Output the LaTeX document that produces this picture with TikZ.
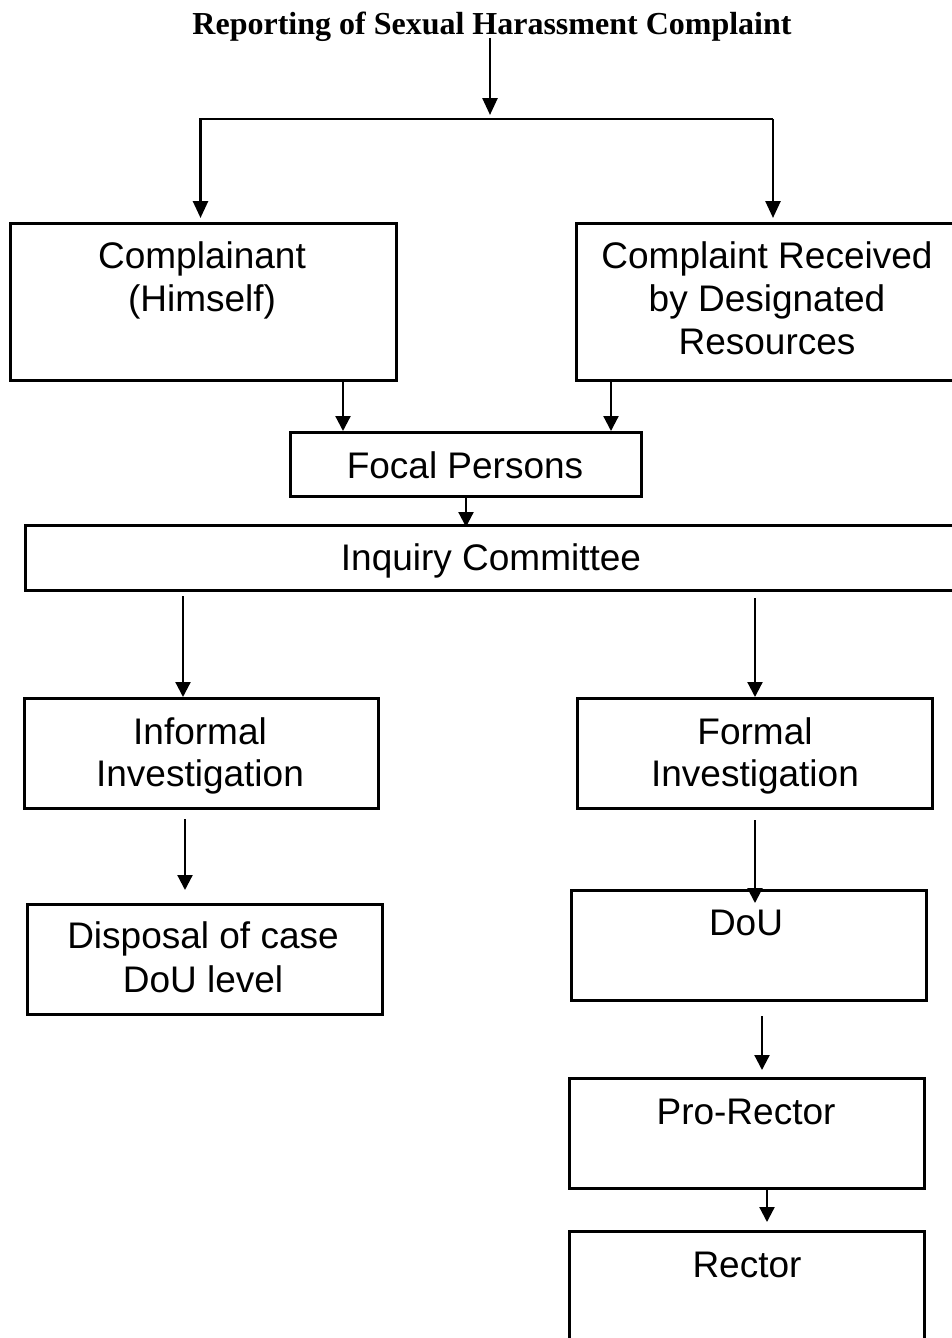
\documentclass[tikz,border=0pt]{standalone}
\usepackage{fontspec}
\setmainfont{Liberation Serif}
\newfontfamily\arialfont{Liberation Sans}
\usetikzlibrary{arrows.meta}
\begin{document}
\begin{tikzpicture}[x=1pt,y=-1pt,
  box/.style={draw, line width=3pt, inner sep=0pt, anchor=north west},
  txt/.style={font=\arialfont\fontsize{37}{43}\selectfont, anchor=base, inner sep=0pt},
  arr/.style={line width=2.2pt, -{Triangle[length=15pt,width=15pt]}},
  tarr/.style={line width=2.6pt, -{Triangle[length=17pt,width=15pt]}},
]
\useasboundingbox (0,0) rectangle (951,1338);

% title
\node[font=\bfseries\fontsize{32}{36}\selectfont, anchor=base, inner sep=0pt] (title) at (492,35) {Reporting of Sexual Harassment Complaint};

% boxes
\node[box, minimum width=386.5pt, minimum height=157pt] (cb) at (8.5,222) {};
\node[box, minimum width=390pt, minimum height=157pt] (cr) at (575,222) {};
\node[box, minimum width=351pt, minimum height=64pt] (fp) at (289,431) {};
\node[box, minimum width=940pt, minimum height=65pt] (ic) at (24,524) {};
\node[box, minimum width=354pt, minimum height=110pt] (ii) at (23,697) {};
\node[box, minimum width=355pt, minimum height=110pt] (fi) at (576,697) {};
\node[box, minimum width=355pt, minimum height=110pt] (dc) at (26,903) {};
\node[box, minimum width=355pt, minimum height=110pt] (du) at (570,889) {};
\node[box, minimum width=355pt, minimum height=110pt] (pr) at (568,1077) {};
\node[box, minimum width=355pt, minimum height=130pt] (rc) at (568,1230) {};

% texts
\node[txt] (cb1) at (202,268) {Complainant};
\node[txt] (cb2) at (202,311) {(Himself)};
\node[txt] (cr1) at (767,268) {Complaint Received};
\node[txt] (cr2) at (767,311) {by Designated};
\node[txt] (cr3) at (767,354) {Resources};
\node[txt] (fp1) at (465,478) {Focal Persons};
\node[txt] (ic1) at (491,570) {Inquiry Committee};
\node[txt] (ii1) at (200,744) {Informal};
\node[txt] (ii2) at (200,786) {Investigation};
\node[txt] (fi1) at (755,744) {Formal};
\node[txt] (fi2) at (755,786) {Investigation};
\node[txt] (dc1) at (203,948) {Disposal of case};
\node[txt] (dc2) at (203,992) {DoU level};
\node[txt] (du1) at (746,935) {DoU};
\node[txt] (pr1) at (746,1124) {Pro-Rector};
\node[txt] (rc1) at (747,1277) {Rector};

% x positions of connectors
\coordinate (sp) at (490,119);
\coordinate (bl) at (200.5,119);
\coordinate (br) at (773,119);
\coordinate (xa) at (343,0);
\coordinate (xb) at (611,0);
\coordinate (xc) at (466,0);
\coordinate (xd) at (183,0);
\coordinate (xe) at (755,0);
\coordinate (xf) at (185,0);
\coordinate (xg) at (755,0);
\coordinate (xh) at (762,0);
\coordinate (xi) at (767,0);

% connectors
\draw[tarr] ([yshift=-3pt]title.base -| sp) -- ([yshift=4pt]sp);
\draw[tarr] (br) -- (bl) -- ([yshift=4pt]bl |- cb.north);
\draw[tarr] (br) -- ([yshift=4pt]br |- cr.north);
\draw[arr] (cb.south -| xa) -- (fp.north -| xa);
\draw[arr] ([yshift=2pt]cr.south -| xb) -- (fp.north -| xb);
\draw[arr] (fp.south -| xc) -- ([yshift=-3pt]ic.north -| xc);
\draw[arr] ([yshift=-4pt]ic.south -| xd) -- (ii.north -| xd);
\draw[arr] ([yshift=-6pt]ic.south -| xe) -- (fi.north -| xe);
\draw[arr] ([yshift=-9pt]ii.south -| xf) -- ([yshift=13pt]dc.north -| xf);
\draw[arr] ([yshift=-10pt]fi.south -| xg) -- ([yshift=-14pt]du.north -| xg);
\draw[arr] ([yshift=-14pt]du.south -| xh) -- ([yshift=7pt]pr.north -| xh);
\draw[arr] (pr.south -| xi) -- ([yshift=8pt]rc.north -| xi);
\end{tikzpicture}
\end{document}
